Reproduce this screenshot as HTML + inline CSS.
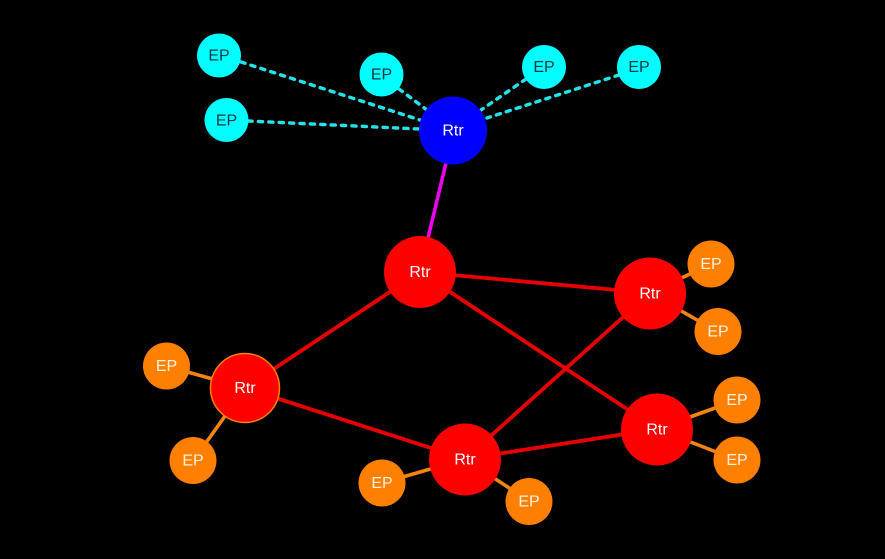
<!DOCTYPE html>
<html><head><meta charset="utf-8"><style>
html,body{margin:0;padding:0;background:#000;width:885px;height:559px;overflow:hidden}
svg{display:block}
text{font-family:"Liberation Sans",sans-serif;font-size:16px;text-anchor:middle;dominant-baseline:central}
.c{stroke:#22e4ea;stroke-width:3.4;stroke-dasharray:4.2 6.2;stroke-linecap:round;fill:none}
.r{stroke:#e80000;stroke-width:3.8;fill:none}
.o{stroke:#f58510;stroke-width:3.6;fill:none}
</style></head><body>
<svg width="885" height="559" viewBox="0 0 885 559" xmlns="http://www.w3.org/2000/svg">
<rect width="885" height="559" fill="#000"/>
<line class="c" x1="241" y1="62" x2="420" y2="120"/>
<line class="c" x1="248" y1="121" x2="419" y2="129"/>
<line class="c" x1="399" y1="89" x2="427" y2="110"/>
<line class="c" x1="526" y1="79" x2="481" y2="110"/>
<line class="c" x1="619" y1="75" x2="487" y2="118"/>
<line x1="446" y1="163" x2="428" y2="238" stroke="#ee00ee" stroke-width="3.6"/>
<line class="r" x1="420" y1="272" x2="650" y2="293"/>
<line class="r" x1="420" y1="272" x2="657" y2="429"/>
<line class="r" x1="420" y1="272" x2="245" y2="388"/>
<line class="r" x1="245" y1="388" x2="465" y2="459"/>
<line class="r" x1="465" y1="459" x2="650" y2="293"/>
<line class="r" x1="465" y1="459" x2="657" y2="429"/>
<line class="o" x1="650" y1="293" x2="711" y2="264"/>
<line class="o" x1="650" y1="293" x2="718" y2="332"/>
<line class="o" x1="657" y1="429" x2="737" y2="400"/>
<line class="o" x1="657" y1="429" x2="737" y2="460"/>
<line class="o" x1="166" y1="366" x2="245" y2="388"/>
<line class="o" x1="193" y1="461" x2="245" y2="388"/>
<line class="o" x1="382" y1="483" x2="465" y2="459"/>
<line class="o" x1="529" y1="501" x2="465" y2="459"/>
<g fill="#00ffff">
<circle cx="219" cy="55.500" r="22"/><circle cx="226.500" cy="120" r="22"/><circle cx="381.500" cy="74.500" r="22"/><circle cx="544" cy="67" r="22"/><circle cx="639" cy="67" r="22"/>
</g>
<circle cx="453" cy="130.500" r="34" fill="#0000ff"/>
<g fill="#ff0000">
<circle cx="420" cy="272" r="36"/><circle cx="650" cy="293.500" r="36"/><circle cx="657" cy="429.500" r="36"/><circle cx="465" cy="459.500" r="36"/>
</g>
<circle cx="245" cy="388" r="34.500" fill="#ff0000" stroke="#ff8000" stroke-width="1.500"/>
<g fill="#ff8000">
<circle cx="711" cy="264" r="23.500"/><circle cx="718" cy="331.500" r="23.500"/><circle cx="737" cy="400" r="23.500"/><circle cx="737" cy="460" r="23.500"/><circle cx="166.500" cy="366" r="23.500"/><circle cx="193" cy="460.500" r="23.500"/><circle cx="382" cy="483" r="23.500"/><circle cx="529" cy="501.500" r="23.500"/>
</g>
<g fill="#083a44">
<text x="219" y="56">EP</text><text x="226.500" y="121">EP</text><text x="381.500" y="75">EP</text><text x="544" y="67.500">EP</text><text x="639" y="67.500">EP</text>
</g>
<g fill="#ffffff">
<text x="453" y="131">Rtr</text><text x="420" y="272.500">Rtr</text><text x="650" y="294">Rtr</text><text x="657" y="430">Rtr</text><text x="465" y="460">Rtr</text><text x="245" y="388.500">Rtr</text>
</g>
<g fill="#fff2e0">
<text x="711" y="264.500">EP</text><text x="718" y="332">EP</text><text x="737" y="400.500">EP</text><text x="737" y="460.500">EP</text><text x="166.500" y="366.500">EP</text><text x="193" y="461">EP</text><text x="382" y="483.500">EP</text><text x="529" y="502">EP</text>
</g>
</svg>
</body></html>
